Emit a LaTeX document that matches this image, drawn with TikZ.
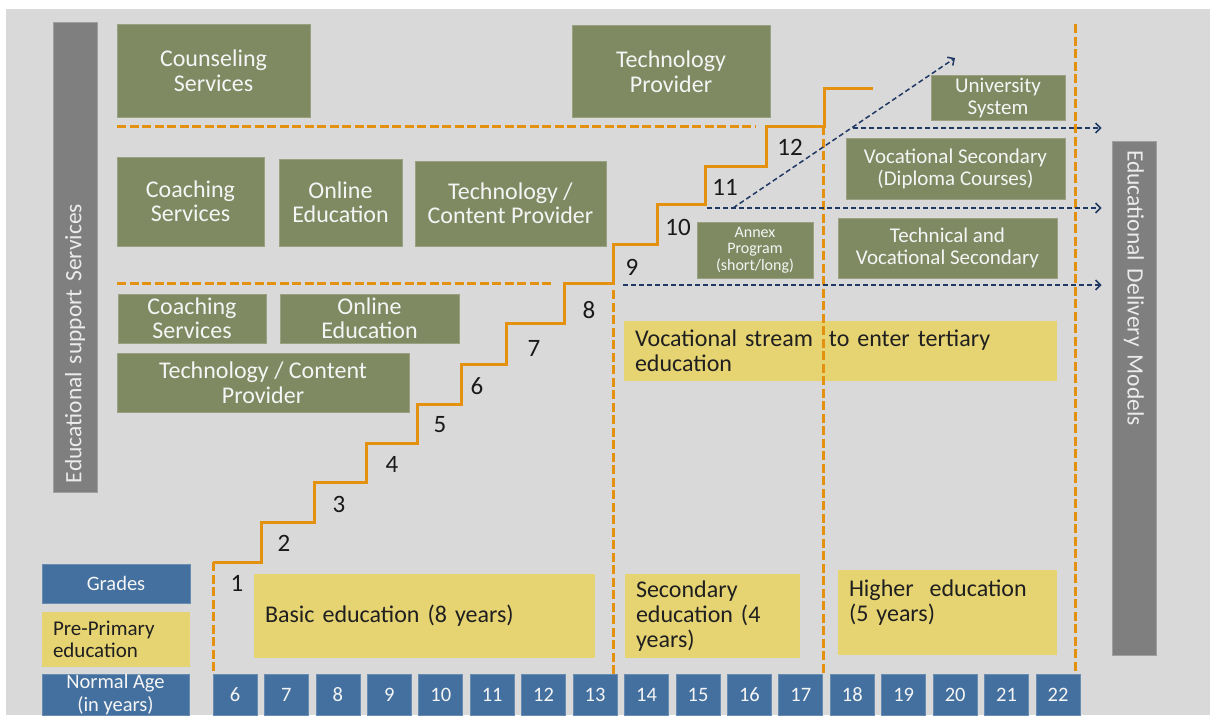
\documentclass[tikz,border=0pt]{standalone}
\usepackage{fontspec}
\setmainfont{Carlito}
\usepackage{xcolor}
\usepackage{tikz}
\usetikzlibrary{arrows}
\usetikzlibrary{arrows.meta}
\usetikzlibrary{positioning}

\definecolor{sheetgray}{HTML}{D9D9D9}
\definecolor{bargray}{HTML}{7F7F7F}
\definecolor{olivebox}{HTML}{7F8A62}
\definecolor{ageblue}{HTML}{43709F}
\definecolor{stageyellow}{HTML}{E6D473}
\definecolor{stairorange}{HTML}{E59110}
\definecolor{routenavy}{HTML}{203864}

\tikzset{ 
service/.style = { rectangle, draw = olivebox!80!white, line width = 0.8pt, fill = olivebox, text = white!96!black, align = center, inner sep = 0pt, font = \fontsize{24}{24.5}\selectfont },
service small/.style = { service, font = \fontsize{21}{22}\selectfont },
service tiny/.style = { service, font = \fontsize{16}{16.5}\selectfont },
stage/.style = { rectangle, fill = stageyellow, text = black!88, align = left, inner xsep = 11pt, inner ysep = 0pt, font = \fontsize{24}{25}\selectfont },
stage small/.style = { stage, font = \fontsize{21}{22}\selectfont },
age/.style = { rectangle, draw = ageblue!80!white, line width = 0.8pt, fill = ageblue, text = white!96!black, align = center, inner sep = 0pt, minimum width = 44pt, minimum height = 41pt, font = \fontsize{20.5}{22.5}\selectfont },
side bar/.style = { rectangle, draw = bargray!75!white, line width = 0.8pt, fill = bargray, text = white!92!black, align = left, inner xsep = 9pt, inner ysep = 0pt, minimum height = 44pt, font = \fontsize{23.5}{25}\selectfont },
grade/.style = { text = black!90, inner sep = 0pt, font = \fontsize{25}{26}\selectfont },
stair/.style = { draw = stairorange, line width = 3pt },
split/.style = { draw = stairorange, line width = 3pt, dash pattern = on 9pt off 3.5pt },
route/.style = { draw = routenavy, line width = 1.5pt, dash pattern = on 5pt off 3pt, -{Straight Barb[length = 5pt, width = 10pt]} },
}

\begin{document}
\begin{tikzpicture}[x = 1pt, y = -1pt]
    \useasboundingbox (0, 0) rectangle (1210, 715);
    \fill[sheetgray] (6, 9) rectangle (1210, 715);

    \node[side bar, rotate = 90, minimum width = 470pt, text width = 452pt] (support) at (75, 257) {Educational support Services};
    \node[side bar, rotate = -90, minimum width = 514pt, text width = 496pt] (delivery) at (1134, 398) {Educational Delivery Models};

    % support services
    \node[service, minimum width = 193pt, minimum height = 93pt] (counseling) at (213.5, 71) {Counseling\\Services};
    \node[service, minimum width = 198pt, minimum height = 92pt] (techprovider) at (671, 71.5) {Technology\\Provider};
    \node[service, minimum width = 147pt, minimum height = 89pt] (coaching) at (190.5, 201.5) {Coaching\\Services};
    \node[service, minimum width = 123pt, minimum height = 87pt] (online) at (340.5, 202.5) {Online\\Education};
    \node[service, minimum width = 191pt, minimum height = 85pt] (content) at (510.5, 203.5) {Technology /\\Content Provider};
    \node[service, minimum width = 148pt, minimum height = 49pt] (coachingb) at (192, 318.5) {Coaching\\Services};
    \node[service, minimum width = 179pt, minimum height = 49pt] (onlineb) at (369.5, 318.5) {Online\\Education};
    \node[service, minimum width = 292pt, minimum height = 59pt] (contentb) at (263, 382.5) {Technology / Content\\Provider};

    % delivery models
    \node[service small, minimum width = 134pt, minimum height = 45pt] (university) at (998, 97.5) {University\\System};
    \node[service small, minimum width = 219pt, minimum height = 61pt] (diploma) at (955.5, 168.5) {Vocational Secondary\\(Diploma Courses)};
    \node[service small, minimum width = 219pt, minimum height = 60pt] (tvet) at (947.5, 248) {Technical and\\Vocational Secondary};
    \node[service tiny, minimum width = 116pt, minimum height = 56pt] (annex) at (755, 250) {Annex\\Program\\(short/long)};

    % stages
    \node[stage, minimum width = 433pt, minimum height = 60pt, text width = 411pt] (stream) at (840.5, 351) {Vocational stream\ \ to enter tertiary\\education};
    \node[stage, minimum width = 341pt, minimum height = 84pt, text width = 319pt] (basic) at (424.5, 616) {Basic education (8 years)};
    \node[stage, minimum width = 175pt, minimum height = 84pt, text width = 153pt] (secondary) at (712.5, 616) {Secondary\\education (4\\years)};
    \node[stage, minimum width = 219pt, text width = 197pt, text height = 26pt, text depth = 59pt] (higher) at (947.5, 612.5) {Higher\ \ education\\(5 years)};
    \node[stage small, minimum width = 148pt, minimum height = 55pt, text width = 126pt] (preprimary) at (116, 639.5) {Pre-Primary\\education};

    % key and ages
    \node[age, minimum width = 148pt, minimum height = 39pt] (grades) at (116, 583.5) {Grades};
    \node[age, minimum width = 147pt] (normalage) at (115.5, 694.5) {Normal Age\\(in years)};
    \node[age] (age6) at (235.0, 694.5) {6};
    \node[age] (age7) at (286.4, 694.5) {7};
    \node[age] (age8) at (337.9, 694.5) {8};
    \node[age] (age9) at (389.3, 694.5) {9};
    \node[age] (age10) at (440.8, 694.5) {10};
    \node[age] (age11) at (492.2, 694.5) {11};
    \node[age] (age12) at (543.6, 694.5) {12};
    \node[age] (age13) at (595.1, 694.5) {13};
    \node[age] (age14) at (646.5, 694.5) {14};
    \node[age] (age15) at (698.0, 694.5) {15};
    \node[age] (age16) at (749.4, 694.5) {16};
    \node[age] (age17) at (800.8, 694.5) {17};
    \node[age] (age18) at (852.3, 694.5) {18};
    \node[age] (age19) at (903.7, 694.5) {19};
    \node[age] (age20) at (955.2, 694.5) {20};
    \node[age] (age21) at (1006.6, 694.5) {21};
    \node[age] (age22) at (1058.0, 694.5) {22};

    % dividers
    \draw[split] (117, 126) -- (755, 126);
    \draw[split] (117, 283) -- (553, 283);
    \draw[split] (213, 562) -- (213, 674);
    \draw[split] (613, 290) -- (613, 674);
    \draw[split] (823, 126) -- (823, 674);
    \draw[split] (1075, 24) -- (1075, 674);

    % grade stairs
    \draw[stair] (213, 562) -- (261, 562) -- (261, 522) -- (314, 522) -- (314, 482) -- (366, 482) -- (366, 443) -- (417, 443) -- (417, 404) -- (461, 404) -- (461, 364) -- (506, 364) -- (506, 323) -- (564, 323) -- (564, 283) -- (613, 283) -- (613, 244) -- (657, 244) -- (657, 204) -- (705, 204) -- (705, 166) -- (766, 166) -- (766, 126) -- (824, 126) -- (824, 88) -- (873, 88);
    \node[grade] (g1) at (237, 583) {1};
    \node[grade] (g2) at (284, 543) {2};
    \node[grade] (g3) at (339, 504) {3};
    \node[grade] (g4) at (392, 464) {4};
    \node[grade] (g5) at (440, 425) {5};
    \node[grade] (g6) at (477, 386) {6};
    \node[grade] (g7) at (534, 348) {7};
    \node[grade] (g8) at (589, 310) {8};
    \node[grade] (g9) at (632, 267) {9};
    \node[grade] (g10) at (678, 227) {10};
    \node[grade] (g11) at (725, 187) {11};
    \node[grade] (g12) at (790, 147) {12};

    % routes out
    \coordinate (from9) at (623, 285);
    \coordinate (from11) at (707, 208);
    \coordinate (from12) at (853, 128);
    \coordinate (fork) at (733, 208);
    \coordinate (rise) at (955, 58);
    \draw[route, shorten > = 10pt] (from9) -- (from9 -| delivery.south);
    \draw[route, shorten > = 10pt] (from11) -- (from11 -| delivery.south);
    \draw[route, shorten > = 10pt] (from12) -- (from12 -| delivery.south);
    \draw[route] (fork) -- (rise);
\end{tikzpicture}
\end{document}
